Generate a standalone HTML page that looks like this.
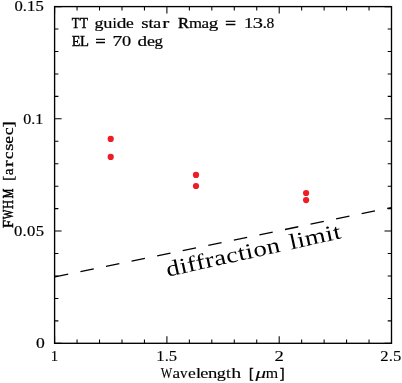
<!DOCTYPE html>
<html><head><meta charset="utf-8"><style>html,body{margin:0;padding:0;background:#fff;width:402px;height:383px;overflow:hidden}svg{display:block;will-change:transform}</style></head>
<body><svg width="402" height="383" viewBox="0 0 402 383">
<rect x="54.6" y="6.6" width="336.90" height="336.70" fill="none" stroke="#000" stroke-width="1.35"/>
<path d="M54.60 343.30v-7M54.60 6.60v7M77.06 343.30v-3.8M77.06 6.60v3.8M99.52 343.30v-3.8M99.52 6.60v3.8M121.98 343.30v-3.8M121.98 6.60v3.8M144.44 343.30v-3.8M144.44 6.60v3.8M166.90 343.30v-7M166.90 6.60v7M189.36 343.30v-3.8M189.36 6.60v3.8M211.82 343.30v-3.8M211.82 6.60v3.8M234.28 343.30v-3.8M234.28 6.60v3.8M256.74 343.30v-3.8M256.74 6.60v3.8M279.20 343.30v-7M279.20 6.60v7M301.66 343.30v-3.8M301.66 6.60v3.8M324.12 343.30v-3.8M324.12 6.60v3.8M346.58 343.30v-3.8M346.58 6.60v3.8M369.04 343.30v-3.8M369.04 6.60v3.8M391.50 343.30v-7M391.50 6.60v7M54.60 343.30h7M391.50 343.30h-7M54.60 320.85h3.8M391.50 320.85h-3.8M54.60 298.41h3.8M391.50 298.41h-3.8M54.60 275.96h3.8M391.50 275.96h-3.8M54.60 253.51h3.8M391.50 253.51h-3.8M54.60 231.07h7M391.50 231.07h-7M54.60 208.62h3.8M391.50 208.62h-3.8M54.60 186.17h3.8M391.50 186.17h-3.8M54.60 163.73h3.8M391.50 163.73h-3.8M54.60 141.28h3.8M391.50 141.28h-3.8M54.60 118.83h7M391.50 118.83h-7M54.60 96.39h3.8M391.50 96.39h-3.8M54.60 73.94h3.8M391.50 73.94h-3.8M54.60 51.49h3.8M391.50 51.49h-3.8M54.60 29.05h3.8M391.50 29.05h-3.8M54.60 6.60h7M391.50 6.60h-7" stroke="#000" stroke-width="1.05" fill="none"/>
<line x1="54.6" y1="276.95" x2="391.5" y2="207.55" stroke="#000" stroke-width="1.3" stroke-dasharray="13.6 12.5" stroke-dashoffset="-0.3"/>
<circle cx="110.7" cy="138.9" r="3.1" fill="#ee1c24"/>
<circle cx="110.7" cy="156.9" r="3.1" fill="#ee1c24"/>
<circle cx="196.0" cy="174.9" r="3.1" fill="#ee1c24"/>
<circle cx="196.0" cy="186.0" r="3.1" fill="#ee1c24"/>
<circle cx="306.1" cy="193.0" r="3.1" fill="#ee1c24"/>
<circle cx="306.1" cy="200.1" r="3.1" fill="#ee1c24"/>
<g font-family="Liberation Serif" stroke="#000">
<text transform="translate(35.997,348.000) scale(1.2063,1)" font-size="14.6" letter-spacing="0.000" stroke-width="0.2">0</text>
<text transform="translate(13.930,235.600) scale(1.1400,1)" font-size="14.6" letter-spacing="0.309" stroke-width="0.2">0.05</text>
<text transform="translate(23.253,123.600) scale(1.0941,1)" font-size="14.6" letter-spacing="0.000" stroke-width="0.2">0.1</text>
<text transform="translate(14.430,10.800) scale(1.1400,1)" font-size="14.6" letter-spacing="0.075" stroke-width="0.2">0.15</text>
<text transform="translate(50.677,360.700) scale(1.0189,1)" font-size="14.6" letter-spacing="0.000" stroke-width="0.12">1</text>
<text transform="translate(156.333,360.800) scale(1.1394,1)" font-size="14.6" letter-spacing="0.000" stroke-width="0.12">1.5</text>
<text transform="translate(274.430,360.700) scale(1.2833,1)" font-size="14.6" letter-spacing="0.000" stroke-width="0.12">2</text>
<text transform="translate(380.316,360.700) scale(1.1400,1)" font-size="14.6" letter-spacing="0.134" stroke-width="0.12">2.5</text>
<text transform="translate(71.800,27.600) scale(0.8764,1)" font-size="14.6" letter-spacing="0.000" stroke-width="0.45">T</text>
<text transform="translate(79.900,27.600) scale(0.8876,1)" font-size="14.6" letter-spacing="0.000" stroke-width="0.45">T</text>
<text transform="translate(94.486,27.600) scale(1.2273,1)" font-size="14.6" letter-spacing="0.000" stroke-width="0.2">g</text>
<text transform="translate(103.274,27.600) scale(1.2571,1)" font-size="14.6" letter-spacing="0.000" stroke-width="0.2">u</text>
<text transform="translate(112.489,27.600) scale(1.0541,1)" font-size="14.6" letter-spacing="0.000" stroke-width="0.2">i</text>
<text transform="translate(116.671,27.600) scale(1.3235,1)" font-size="14.6" letter-spacing="0.000" stroke-width="0.2">d</text>
<text transform="translate(126.102,27.600) scale(1.1964,1)" font-size="14.6" letter-spacing="0.000" stroke-width="0.2">e</text>
<text transform="translate(141.254,27.600) scale(1.2917,1)" font-size="14.6" letter-spacing="0.000" stroke-width="0.2">s</text>
<text transform="translate(148.600,27.600) scale(1.2439,1)" font-size="14.6" letter-spacing="0.000" stroke-width="0.2">t</text>
<text transform="translate(153.213,27.600) scale(1.2167,1)" font-size="14.6" letter-spacing="0.000" stroke-width="0.2">a</text>
<text transform="translate(162.275,27.600) scale(1.4500,1)" font-size="14.6" letter-spacing="0.000" stroke-width="0.2">r</text>
<text transform="translate(177.973,27.600) scale(1.1340,1)" font-size="14.6" letter-spacing="0.000" stroke-width="0.45">R</text>
<text transform="translate(188.971,27.600) scale(1.1455,1)" font-size="14.6" letter-spacing="0.000" stroke-width="0.2">m</text>
<text transform="translate(201.533,27.600) scale(1.1667,1)" font-size="14.6" letter-spacing="0.000" stroke-width="0.2">a</text>
<text transform="translate(208.748,27.600) scale(1.3030,1)" font-size="14.6" letter-spacing="0.000" stroke-width="0.2">g</text>
<text transform="translate(225.281,27.600) scale(1.2973,1)" font-size="14.6" letter-spacing="0.000" stroke-width="0.6">=</text>
<text transform="translate(243.983,27.600) scale(1.2642,1)" font-size="14.6" letter-spacing="0.000" stroke-width="0.2">1</text>
<text transform="translate(252.758,27.600) scale(1.4032,1)" font-size="14.6" letter-spacing="0.000" stroke-width="0.2">3</text>
<text transform="translate(262.463,27.600) scale(1.2632,1)" font-size="14.6" letter-spacing="0.000" stroke-width="0.2">.</text>
<text transform="translate(266.568,27.600) scale(1.0635,1)" font-size="14.6" letter-spacing="0.000" stroke-width="0.2">8</text>
<text transform="translate(71.707,46.400) scale(0.9634,1)" font-size="14.6" letter-spacing="0.000" stroke-width="0.45">E</text>
<text transform="translate(79.900,46.400) scale(1.0000,1)" font-size="14.6" letter-spacing="0.000" stroke-width="0.45">L</text>
<text transform="translate(95.514,46.400) scale(1.2162,1)" font-size="14.6" letter-spacing="0.000" stroke-width="0.6">=</text>
<text transform="translate(112.590,46.400) scale(1.3443,1)" font-size="14.6" letter-spacing="0.000" stroke-width="0.2">7</text>
<text transform="translate(121.973,46.400) scale(1.2540,1)" font-size="14.6" letter-spacing="0.000" stroke-width="0.2">0</text>
<text transform="translate(137.476,46.400) scale(1.3088,1)" font-size="14.6" letter-spacing="0.000" stroke-width="0.2">d</text>
<text transform="translate(146.984,46.400) scale(1.2321,1)" font-size="14.6" letter-spacing="0.000" stroke-width="0.2">e</text>
<text transform="translate(154.524,46.400) scale(1.1515,1)" font-size="14.6" letter-spacing="0.000" stroke-width="0.2">g</text>
<text transform="translate(160.700,378.400) scale(0.8333,1)" font-size="14.6" letter-spacing="0.000" stroke-width="0.12">W</text>
<text transform="translate(172.514,378.400) scale(1.1724,1)" font-size="14.6" letter-spacing="0.000" stroke-width="0.12">a</text>
<text transform="translate(180.003,378.400) scale(1.0267,1)" font-size="14.6" letter-spacing="0.000" stroke-width="0.12">v</text>
<text transform="translate(188.000,378.400) scale(1.2000,1)" font-size="14.6" letter-spacing="0.000" stroke-width="0.12">e</text>
<text transform="translate(195.628,378.400) scale(1.3611,1)" font-size="14.6" letter-spacing="0.000" stroke-width="0.12">l</text>
<text transform="translate(200.173,378.400) scale(1.2545,1)" font-size="14.6" letter-spacing="0.000" stroke-width="0.12">e</text>
<text transform="translate(207.916,378.400) scale(1.2794,1)" font-size="14.6" letter-spacing="0.000" stroke-width="0.12">n</text>
<text transform="translate(216.852,378.400) scale(1.2462,1)" font-size="14.6" letter-spacing="0.000" stroke-width="0.12">g</text>
<text transform="translate(225.982,378.400) scale(1.1795,1)" font-size="14.6" letter-spacing="0.000" stroke-width="0.12">t</text>
<text transform="translate(231.163,378.400) scale(1.3662,1)" font-size="14.6" letter-spacing="0.000" stroke-width="0.12">h</text>
<text transform="translate(248.942,378.400) scale(0.9474,1)" font-size="14.6" letter-spacing="0.000" stroke-width="0.5">[</text>
<text transform="translate(255.470,378.400) scale(1.4500,1)" font-size="14.6" letter-spacing="0.000" stroke-width="0.12"><tspan font-style="italic">μ</tspan></text>
<text transform="translate(265.682,378.400) scale(1.0909,1)" font-size="14.6" letter-spacing="0.000" stroke-width="0.12">m</text>
<text transform="translate(279.708,378.400) scale(0.9730,1)" font-size="14.6" letter-spacing="0.000" stroke-width="0.5">]</text>
<g transform="translate(12.8,0) rotate(-90)"><text transform="translate(-227.897,0.000) scale(0.9868,1)" font-size="14.6" letter-spacing="0.000" stroke-width="0.5">F</text></g>
<g transform="translate(12.8,0) rotate(-90)"><text transform="translate(-219.330,0.000) scale(0.7000,1)" font-size="14.6" letter-spacing="0.000" stroke-width="0.6">W</text></g>
<g transform="translate(12.8,0) rotate(-90)"><text transform="translate(-209.071,0.000) scale(0.8529,1)" font-size="14.6" letter-spacing="0.000" stroke-width="0.5">H</text></g>
<g transform="translate(12.8,0) rotate(-90)"><text transform="translate(-198.173,0.000) scale(0.7344,1)" font-size="14.6" letter-spacing="0.000" stroke-width="0.6">M</text></g>
<g transform="translate(12.8,0) rotate(-90)"><text transform="translate(-180.625,0.000) scale(1.0278,1)" font-size="14.6" letter-spacing="0.000" stroke-width="0.3">[</text></g>
<g transform="translate(12.8,0) rotate(-90)"><text transform="translate(-175.220,0.000) scale(1.0500,1)" font-size="14.6" letter-spacing="0.000" stroke-width="0.3">a</text></g>
<g transform="translate(12.8,0) rotate(-90)"><text transform="translate(-167.275,0.000) scale(1.4500,1)" font-size="14.6" letter-spacing="0.000" stroke-width="0.3">r</text></g>
<g transform="translate(12.8,0) rotate(-90)"><text transform="translate(-159.055,0.000) scale(1.1379,1)" font-size="14.6" letter-spacing="0.000" stroke-width="0.3">c</text></g>
<g transform="translate(12.8,0) rotate(-90)"><text transform="translate(-150.735,0.000) scale(1.2708,1)" font-size="14.6" letter-spacing="0.000" stroke-width="0.3">s</text></g>
<g transform="translate(12.8,0) rotate(-90)"><text transform="translate(-143.777,0.000) scale(1.1930,1)" font-size="14.6" letter-spacing="0.000" stroke-width="0.3">e</text></g>
<g transform="translate(12.8,0) rotate(-90)"><text transform="translate(-135.190,0.000) scale(1.2241,1)" font-size="14.6" letter-spacing="0.000" stroke-width="0.3">c</text></g>
<g transform="translate(12.8,0) rotate(-90)"><text transform="translate(-127.403,0.000) scale(1.2571,1)" font-size="14.6" letter-spacing="0.000" stroke-width="0.3">]</text></g>
<g transform="translate(167.0,276.8) rotate(-12.45)"><text transform="translate(0.794,0.000) scale(1.2200,1)" font-size="22" letter-spacing="0.282" stroke-width="0.0">diffraction</text></g>
<g transform="translate(167.0,276.8) rotate(-12.45)"><text transform="translate(127.012,0.000) scale(1.2200,1)" font-size="22" letter-spacing="0.324" stroke-width="0.0">limit</text></g>
</g>
</svg></body></html>
